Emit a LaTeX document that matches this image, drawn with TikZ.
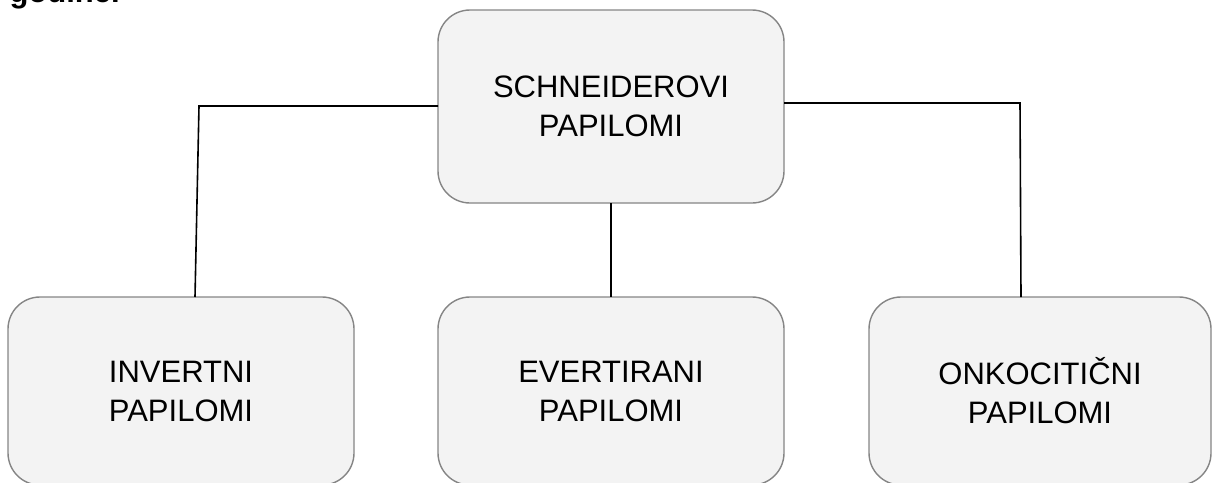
\documentclass[tikz,border=0pt]{standalone}
\usepackage{fontspec}
\setmainfont{Liberation Sans}
\definecolor{boxgray}{HTML}{858585}
\definecolor{boxfill}{HTML}{F3F3F3}
\begin{document}
\begin{tikzpicture}[x=1pt,y=-1pt,
  box/.style={draw=boxgray, fill=boxfill, line width=1.4pt, rounded corners=32pt,
    inner sep=0pt, outer sep=0pt, align=center, font=\fontsize{31}{39}\selectfont},
  conn/.style={draw=black, line width=1.6pt}]
\useasboundingbox (0,0) rectangle (1212,482);
\clip (0,0) rectangle (1212,482);
\node[anchor=base west, font=\fontsize{31}{37}\selectfont\bfseries] (cap) at (6,2) {godine.};
\node[box, minimum width=346pt, minimum height=193pt] (top) at (611,106.5) {SCHNEIDEROVI\\PAPILOMI};
\node[box, minimum width=346pt, minimum height=188pt] (inv) at (181,391) {INVERTNI\\PAPILOMI};
\node[box, minimum width=346pt, minimum height=188pt] (eve) at (611,391) {EVERTIRANI\\PAPILOMI};
\node[box, minimum width=342pt, minimum height=188pt] (onk) at (1040,391) {ONKOCITIČNI\\PAPILOMI};
\coordinate (lk) at (199,106);
\coordinate (rk) at (1020,103);
\draw[conn] (top.west |- lk) -- (lk) -- ([xshift=14pt]inv.north);
\draw[conn] (top.east |- rk) -- (rk) -- ([xshift=-19pt]onk.north);
\draw[conn] (top.south) -- (eve.north);
\end{tikzpicture}
\end{document}
